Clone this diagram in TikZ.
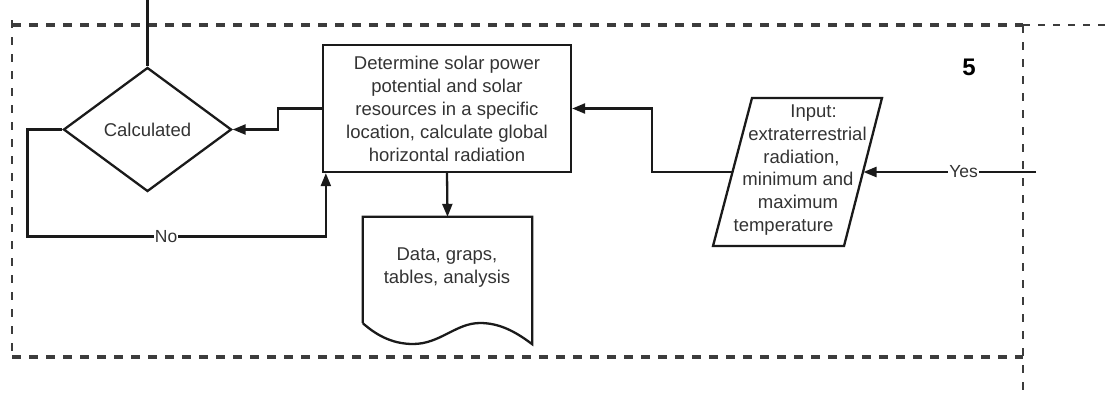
\documentclass[tikz,border=0pt]{standalone}
\usepackage{fontspec}
\setmainfont{Liberation Sans}
\usetikzlibrary{shapes.geometric,arrows.meta,calc}
\definecolor{ln}{HTML}{1A1A1A}
\definecolor{tx}{HTML}{333333}
\definecolor{dsh}{HTML}{3C3C3C}
\begin{document}
\begin{tikzpicture}[x=1pt,y=-1pt,
  every node/.style={text=tx, font=\fontsize{18.5}{23}\selectfont},
  conn/.style={draw=ln, line width=2.3pt},
  arr/.style={conn, -{Triangle[length=13pt,width=10pt]}},
  procbox/.style={draw=ln, line width=2.3pt, rectangle, minimum width=248pt, minimum height=127pt, align=center, inner sep=0pt},
  decbox/.style={draw=ln, line width=2.3pt, diamond, minimum width=168pt, minimum height=124pt, inner sep=0pt},
  docbox/.style={rectangle, minimum width=169pt, minimum height=127pt, inner sep=0pt},
  plain/.style={align=center, inner sep=0pt},
  lbl/.style={fill=white, inner sep=1pt, font=\fontsize{17.5}{20}\selectfont},
  frameA/.style={draw=dsh, line width=3.2pt, dash pattern=on 9pt off 8pt},
  frameB/.style={draw=dsh, line width=2.4pt, dash pattern=on 8pt off 9pt},
  frameC/.style={draw=dsh, line width=1.6pt, dash pattern=on 7pt off 8pt}
]
\useasboundingbox (0,0) rectangle (1109,392);

% dashed frame
\draw[frameA] (12,25) -- (1023,25);
\draw[frameC] (1023,25) -- (1109,25);
\draw[frameB] (12,20) -- (12,357);
\draw[frameA] (12,357) -- (1023,357);
\draw[frameB] (1023,25) -- (1023,392);

% nodes
\node[decbox] (dec) at (147.5,129.5) {Calculated};
\node[procbox] (box) at (447,108.5) {Determine solar power\\potential and solar\\resources in a specific\\location, calculate global\\horizontal radiation};
\node[docbox] (doc) at (447.5,280.5) {};
\node[plain] (doctext) at (447,267.5) {Data, graps,\\tables, analysis};
\draw[ln, line width=2.3pt] ([yshift=21pt]doc.south west) -- (doc.north west) -- (doc.north east) -- (doc.south east)
  .. controls (516,332) and (500,323) .. (480,323)
  .. controls (456,323) and (440,344) .. (413,344)
  .. controls (390,344) and (374,333) .. ([yshift=21pt]doc.south west);

\node[plain, font=\fontsize{18.5}{22.8}\selectfont] (inp) at (798,170) {\hspace*{31pt}Input:\\\hspace*{19pt}extraterrestrial\\\hspace*{7pt}radiation,\\minimum and\hspace*{5pt}\\maximum\hspace*{17pt}\\temperature\hspace*{29pt}};
\draw[ln, line width=2.3pt] (752,98) -- (882,98) -- (844,246) -- (713,246) -- cycle;
\coordinate (inpL) at (732.5,172);
\coordinate (inpR) at (863.5,172);

\node[font=\bfseries\fontsize{24}{28}\selectfont, text=black] (five) at (969,67) {5};

\coordinate (topin) at (147.5,0);
\coordinate (yesS) at (1036,172);
\coordinate (noin) at ([xshift=4pt]box.south west);

% connectors
\draw[conn] (topin) -- (dec.north);
\draw[arr] (box.west) -- ++(-44,0) |- (dec.east);
\draw[arr] (dec.west) -- ++(-35,0) -- ++(0,107) -- node[lbl, pos=0.465] {No} (noin |- 0,236.5) -- (noin);
\draw[arr] (box.south) -- (doc.north);
\draw[arr] (yesS) -- node[lbl, pos=0.42] {Yes} (inpR);
\draw[arr] (inpL) -- (652,172) |- (box.east);
\end{tikzpicture}
\end{document}
